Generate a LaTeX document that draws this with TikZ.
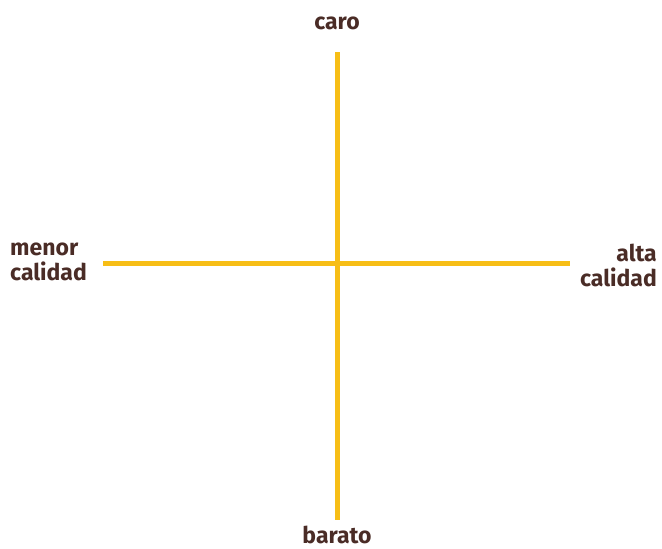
\documentclass[tikz,border=0pt]{standalone}
\usepackage{fontspec}
\setmainfont{Fira Sans}
\usepackage{tikz}
\usetikzlibrary{positioning}
\definecolor{QYellow}{HTML}{F7BE16}
\definecolor{QBrown}{HTML}{4A2C26}

\begin{document}
\begin{tikzpicture}[
  x=1pt,y=-1pt,
  lbl/.style={text=QBrown,font=\fontsize{23}{25}\selectfont\bfseries,inner sep=0pt},
  ax/.style={draw=QYellow,line width=5pt}
]
  \useasboundingbox (0,0) rectangle (662,549);
  % axis labels
  \node[lbl] (caro) at (337,23) {caro};
  \node[lbl] (barato) at (337,535) {barato};
  \node[lbl,align=left,anchor=west] (menor) at (10,262) {menor\\calidad};
  \node[lbl,align=right,anchor=east] (alta) at (657,265) {alta\\calidad};
  % axis ends
  \coordinate (top) at (337,52);
  \coordinate (bottom) at (337,520);
  \coordinate (left) at (103,263);
  \coordinate (right) at (570,263);
  \draw[ax] (top) -- (bottom);
  \draw[ax] (left) -- (right);
\end{tikzpicture}
\end{document}
